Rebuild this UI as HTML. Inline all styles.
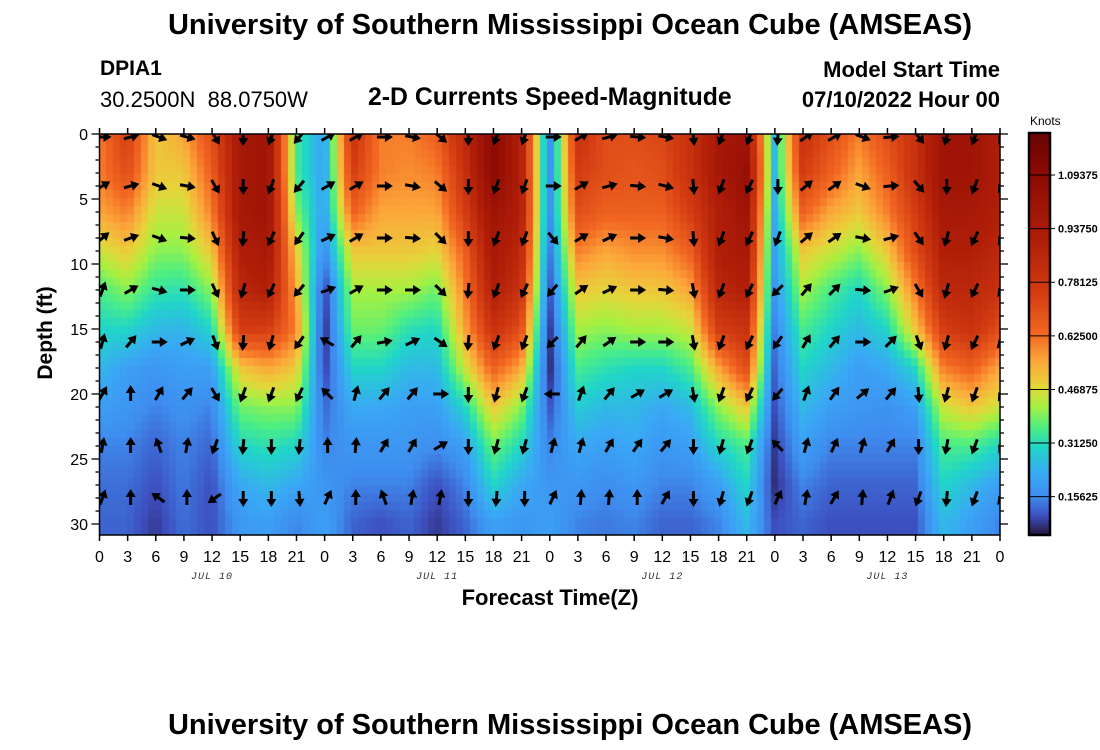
<!DOCTYPE html>
<html><head><meta charset="utf-8">
<style>
body{margin:0;background:#fff;width:1100px;height:750px;overflow:hidden;position:relative;font-family:"Liberation Sans",sans-serif}
.t{position:absolute;white-space:nowrap;color:#000}
</style></head><body>
<div class="t" style="left:0;width:1140px;text-align:center;top:9px;font-size:29px;font-weight:bold">University of Southern Mississippi Ocean Cube (AMSEAS)</div>
<div class="t" style="left:100px;top:57px;font-size:21px;font-weight:bold">DPIA1</div>
<div class="t" style="left:100px;top:87px;font-size:22px">30.2500N&nbsp;&nbsp;88.0750W</div>
<div class="t" style="left:368px;top:84px;font-size:24.8px;font-weight:bold">2-D Currents Speed-Magnitude</div>
<div class="t" style="right:100px;top:57px;font-size:22px;font-weight:bold">Model Start Time</div>
<div class="t" style="right:100px;top:87px;font-size:22px;font-weight:bold">07/10/2022 Hour 00</div>
<div class="t" style="left:0;width:1140px;text-align:center;top:709px;font-size:29px;font-weight:bold">University of Southern Mississippi Ocean Cube (AMSEAS)</div>
<canvas id="hm" width="901" height="401" style="position:absolute;left:99px;top:134px"></canvas>
<svg id="sv" width="1100" height="750" style="position:absolute;left:0;top:0">
<defs><clipPath id="pc"><rect x="99" y="134" width="901" height="401"/></clipPath>
<linearGradient id="cbg" x1="0" y1="1" x2="0" y2="0"></linearGradient></defs>
<g id="arrows" clip-path="url(#pc)"></g>
<g id="axes"></g>
</svg>
<script>
const times=[0,3,6,9,12,15,18,21,24,27,30,33,36,39,42,45,48,51,54,57,60,63,66,69,72,75,78,81,84,87,90,93,96];
const depths=[0,3,6,9,12,15,18,21,24,27,30];
// speed columns (knots), one array per time, values over depths
const speedCols=[
[0.6,0.6,0.55,0.45,0.35,0.3,0.25,0.2,0.15,0.13,0.12],
[0.75,0.7,0.6,0.5,0.4,0.3,0.2,0.18,0.15,0.13,0.12],
[0.5,0.5,0.45,0.4,0.33,0.25,0.18,0.15,0.12,0.1,0.08],
[0.55,0.5,0.45,0.4,0.32,0.24,0.2,0.17,0.15,0.14,0.13],
[0.7,0.65,0.6,0.5,0.4,0.3,0.2,0.15,0.12,0.1,0.1],
[0.95,0.95,0.95,0.9,0.85,0.75,0.5,0.38,0.3,0.22,0.18],
[1.0,1.0,1.0,0.95,0.9,0.75,0.55,0.4,0.32,0.25,0.2],
[0.35,0.35,0.4,0.5,0.55,0.6,0.5,0.4,0.3,0.22,0.15],
[0.2,0.2,0.2,0.15,0.08,0.06,0.08,0.12,0.15,0.18,0.2],
[0.8,0.75,0.65,0.5,0.42,0.38,0.3,0.22,0.18,0.15,0.12],
[0.6,0.6,0.55,0.5,0.42,0.38,0.3,0.22,0.18,0.15,0.1],
[0.6,0.58,0.55,0.5,0.42,0.32,0.25,0.2,0.18,0.15,0.12],
[0.65,0.6,0.55,0.48,0.38,0.3,0.25,0.2,0.16,0.1,0.08],
[0.85,0.8,0.75,0.65,0.6,0.55,0.45,0.3,0.2,0.15,0.12],
[1.1,1.1,1.0,0.95,0.9,0.8,0.65,0.5,0.38,0.3,0.2],
[0.9,0.9,0.9,0.85,0.8,0.7,0.55,0.4,0.3,0.22,0.18],
[0.15,0.15,0.15,0.13,0.1,0.07,0.06,0.1,0.15,0.18,0.2],
[0.8,0.75,0.7,0.6,0.5,0.42,0.35,0.28,0.22,0.18,0.15],
[0.7,0.7,0.65,0.55,0.48,0.4,0.32,0.25,0.2,0.16,0.14],
[0.7,0.68,0.65,0.58,0.5,0.42,0.3,0.25,0.22,0.18,0.15],
[0.72,0.7,0.65,0.58,0.5,0.42,0.3,0.22,0.18,0.15,0.12],
[0.8,0.8,0.75,0.65,0.55,0.45,0.35,0.25,0.2,0.15,0.12],
[0.95,0.95,0.9,0.9,0.85,0.75,0.55,0.4,0.3,0.2,0.15],
[1.0,1.05,1.0,0.95,0.9,0.8,0.7,0.5,0.35,0.3,0.25],
[0.25,0.25,0.22,0.2,0.18,0.15,0.12,0.1,0.08,0.07,0.1],
[0.8,0.75,0.65,0.5,0.42,0.35,0.3,0.25,0.2,0.15,0.12],
[0.7,0.65,0.55,0.45,0.35,0.3,0.25,0.2,0.15,0.12,0.1],
[0.6,0.55,0.5,0.4,0.3,0.25,0.2,0.18,0.15,0.12,0.1],
[0.7,0.65,0.6,0.5,0.4,0.3,0.22,0.17,0.15,0.12,0.1],
[0.8,0.8,0.75,0.7,0.6,0.5,0.3,0.2,0.15,0.12,0.1],
[1.0,1.0,0.95,0.9,0.85,0.75,0.6,0.45,0.35,0.3,0.25],
[1.0,1.0,0.95,0.9,0.85,0.8,0.65,0.5,0.35,0.25,0.2],
[0.9,0.9,0.9,0.85,0.8,0.7,0.55,0.45,0.3,0.2,0.15]];
const arrowDepths=[0,4,8,12,16,20,24,28];
// direction (compass degrees, 0 = up/north) per arrow row, one value per time
const dirD0=[90,75,110,105,150,180,200,220,60,60,90,100,130,180,200,200,90,60,75,95,100,175,200,200,185,55,60,110,85,140,195,200,210];
const dirD4=[60,75,110,100,150,180,200,220,60,60,90,100,130,180,200,200,90,60,75,95,105,175,200,205,180,50,55,110,85,140,180,200,215];
const dirD8=[50,70,110,95,155,185,205,215,65,60,90,95,135,180,200,200,140,60,65,90,100,175,200,205,200,50,55,100,75,145,195,205,215];
const dirD12=[20,60,105,90,155,195,205,220,70,60,90,90,135,185,200,205,220,55,65,90,95,170,200,205,225,40,45,95,70,150,195,205,220];
const dirD16=[15,40,90,65,160,185,195,215,300,40,80,65,125,185,200,200,225,40,55,90,90,170,200,205,215,30,40,90,45,160,195,205,225];
const dirD20=[30,0,30,40,150,200,200,205,315,15,40,40,90,180,195,200,270,20,40,60,60,170,200,205,220,20,35,50,40,175,195,200,215];
const dirD24=[10,0,340,10,200,185,180,185,0,5,30,30,60,180,195,195,15,15,30,35,40,180,195,200,315,15,25,15,30,180,190,200,210];
const dirD28=[20,0,305,0,235,180,180,175,25,0,340,10,10,180,185,180,25,5,5,0,30,180,195,200,25,10,30,5,20,200,185,200,220];
const arrowDirs=[dirD0,dirD4,dirD8,dirD12,dirD16,dirD20,dirD24,dirD28];
const cbTicks=[0.15625,0.3125,0.46875,0.625,0.78125,0.9375,1.09375];
const cbLabels=["0.15625","0.31250","0.46875","0.62500","0.78125","0.93750","1.09375"];
const dayLabels=["JUL 10","JUL 11","JUL 12","JUL 13"];
const dayCenters=[12,36,60,84];

const X0=99.5,X1=1000,Y0=134,PXFT=13;
const xs=t=>X0+(X1-X0)*t/96;
const ys=d=>Y0+d*PXFT;
const CBV0=0.0446,CBV1=1.216,CBY0=535,CBY1=133;
const cy=v=>CBY0+(v-CBV0)/(CBV1-CBV0)*(CBY1-CBY0);

const stops=[[0.05,[42,26,74]],[0.1,[61,79,191]],[0.16,[62,142,240]],[0.22,[58,168,245]],[0.3,[32,214,200]],[0.36,[80,239,128]],[0.42,[168,240,64]],[0.48,[230,212,58]],[0.55,[252,167,58]],[0.63,[242,103,34]],[0.75,[211,60,18]],[0.9,[176,30,8]],[1.05,[150,15,5]],[1.2,[110,4,4]]];
function cmap(v){
 if(v<=stops[0][0])return stops[0][1];
 for(let i=1;i<stops.length;i++){if(v<=stops[i][0]){const a=stops[i-1],b=stops[i],f=(v-a[0])/(b[0]-a[0]);return a[1].map((c,k)=>Math.round(c+(b[1][k]-c)*f));}}
 return stops[stops.length-1][1];
}
function interp(arr,v){
 if(v<=arr[0])return[0,0];if(v>=arr[arr.length-1])return[arr.length-2,1];
 for(let i=1;i<arr.length;i++)if(v<=arr[i])return[i-1,(v-arr[i-1])/(arr[i]-arr[i-1])];
}
function speedAt(t,d){
 const [i,fx]=interp(times,t),[j,fy]=interp(depths,d);
 const a=speedCols[i][j],b=speedCols[i+1][j],c=speedCols[i][j+1],e=speedCols[i+1][j+1];
 return (a*(1-fx)+b*fx)*(1-fy)+(c*(1-fx)+e*fx)*fy;
}
const cv=document.getElementById('hm'),ctx=cv.getContext('2d');
const BW=7,BH=8;
for(let px=0;px<901;px+=BW){for(let py=0;py<401;py+=BH){
 const t=(px+BW/2)/(X1-X0)*96,d=(py+BH/2)/PXFT;
 const c=cmap(speedAt(t,d));ctx.fillStyle=`rgb(${c[0]},${c[1]},${c[2]})`;ctx.fillRect(px,py,BW,BH);
}}
const NS='http://www.w3.org/2000/svg';
function mk(tag,attrs,parent){const e=document.createElementNS(NS,tag);for(const k in attrs)e.setAttribute(k,attrs[k]);parent.appendChild(e);return e;}
const ag=document.getElementById('arrows');
arrowDepths.forEach((d,r)=>{times.forEach((t,i)=>{
 const cx=xs(t)+3,cyy=ys(d)+(d===0?3:0);
 const g=mk('g',{transform:`translate(${cx},${cyy}) rotate(${arrowDirs[r][i]})`},ag);
 
 
 mk('line',{x1:0,y1:7,x2:0,y2:-3,stroke:'#000','stroke-width':3},g);
 mk('polygon',{points:'0,-9 -5,-1 5,-1',fill:'#000'},g);
});});
const ax=document.getElementById('axes');
const frame=mk('rect',{x:X0,y:Y0,width:X1-X0,height:401,fill:'none',stroke:'#000','stroke-width':1.5},ax);


times.forEach((t,i)=>{
 const x=xs(t);
 mk('line',{x1:x,y1:Y0,x2:x,y2:Y0-6,stroke:'#000','stroke-width':1.5},ax);
 mk('line',{x1:x,y1:535,x2:x,y2:541,stroke:'#000','stroke-width':1.5},ax);
 const lb=mk('text',{x:x,y:562,'text-anchor':'middle','font-size':16,'font-family':'Liberation Sans, sans-serif'},ax);
 lb.textContent=String(t%24);
 
 
});
for(let d=0;d<=30;d++){
 const y=ys(d),L=d%5===0?8:4;
 mk('line',{x1:X0,y1:y,x2:X0-L,y2:y,stroke:'#000','stroke-width':1.3},ax);
 mk('line',{x1:X1,y1:y,x2:X1+L,y2:y,stroke:'#000','stroke-width':1.3},ax);
 if(d%5===0){const lb=mk('text',{x:88,y:y+6,'text-anchor':'end','font-size':16,'font-family':'Liberation Sans, sans-serif'},ax);lb.textContent=String(d);
 
 }
}
dayLabels.forEach((s,i)=>{
 const lb=mk('text',{x:xs(dayCenters[i]),y:579,'text-anchor':'middle','font-size':10,'font-style':'italic','letter-spacing':'1','font-family':'Liberation Mono, monospace',fill:'#333'},ax);
 lb.textContent=s;
 
 
});
let tx=mk('text',{x:550,y:605,'text-anchor':'middle','font-size':22,'font-weight':'bold','font-family':'Liberation Sans, sans-serif'},ax);
tx.textContent='Forecast Time(Z)';


tx=mk('text',{x:0,y:0,transform:'translate(52,333) rotate(-90)','text-anchor':'middle','font-size':21,'font-weight':'bold','font-family':'Liberation Sans, sans-serif'},ax);
tx.textContent='Depth (ft)';


const grad=document.getElementById('cbg');
mk('stop',{offset:0,'stop-color':`rgb(${cmap(CBV0).join(',')})`},grad);
stops.forEach(s=>{const f=(s[0]-CBV0)/(CBV1-CBV0);if(f<0||f>1)return;mk('stop',{offset:f,'stop-color':`rgb(${s[1].join(',')})`},grad);});
mk('stop',{offset:1,'stop-color':`rgb(${cmap(CBV1).join(',')})`},grad);
const cb=mk('rect',{x:1029,y:CBY1,width:21,height:CBY0-CBY1,fill:'url(#cbg)',stroke:'#000','stroke-width':2.5},ax);


cbTicks.forEach((v,i)=>{
 const y=cy(v);
 mk('line',{x1:1029,y1:y,x2:1055,y2:y,stroke:'#000','stroke-width':1},ax);
 const lb=mk('text',{x:1058,y:y+4,'font-size':11,'font-weight':'bold','font-family':'Liberation Sans, sans-serif'},ax);
 lb.textContent=cbLabels[i];
 
 
});
tx=mk('text',{x:1030,y:125,'font-size':12,'font-family':'Liberation Sans, sans-serif'},ax);
tx.textContent='Knots';


</script>
</body></html>
